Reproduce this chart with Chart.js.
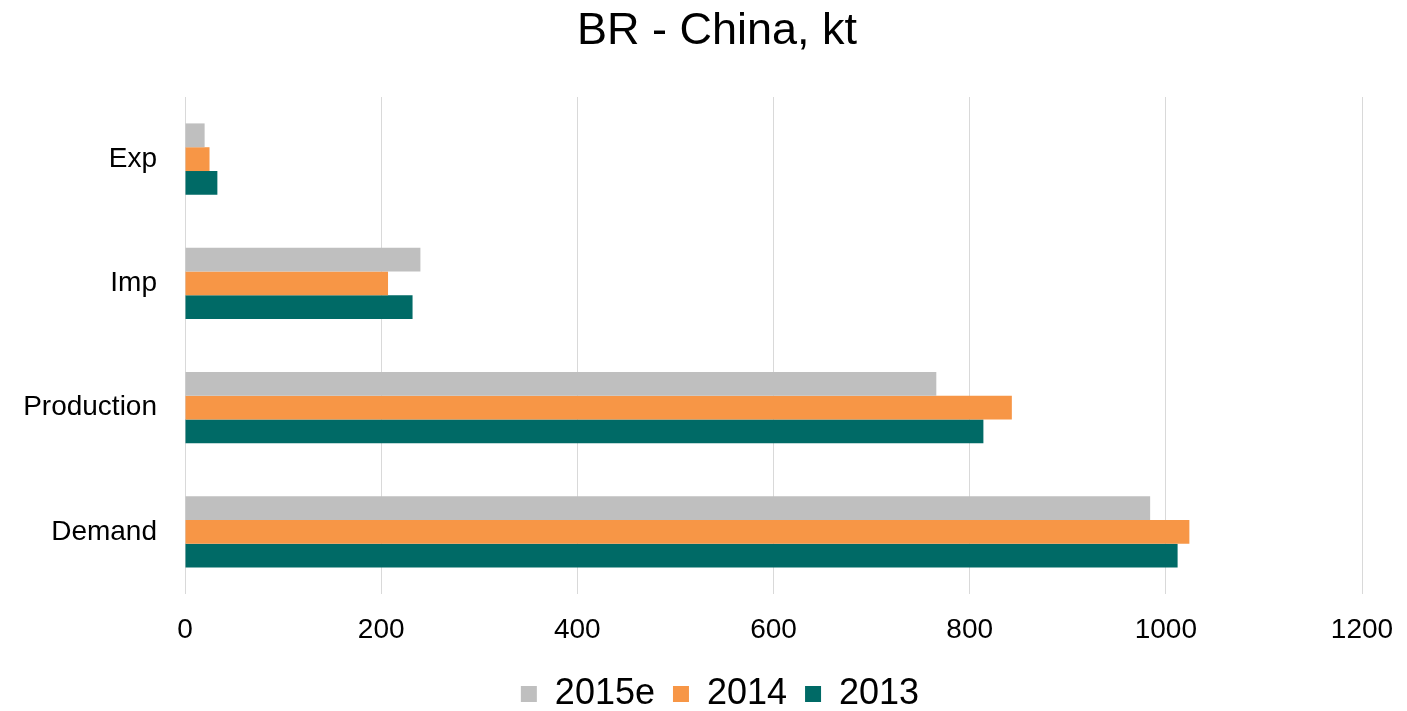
<!DOCTYPE html>
<html>
<head>
<meta charset="utf-8">
<script src="https://cdn.jsdelivr.net/npm/chart.js@4"></script>
<style>
  html, body { margin: 0; padding: 0; background: #ffffff; }
  #wrap { width: 1407px; height: 711px; }
</style>
</head>
<body>
<div id="wrap"><canvas id="c" width="1407" height="711"></canvas></div>
<script>
const categories = ['Exp', 'Imp', 'Production', 'Demand'];
const seriesNames = ['2015e', '2014', '2013'];
const values2015e = [20, 240, 766, 984];
const values2014 = [25, 207, 843, 1024];
const values2013 = [33, 232, 814, 1012];
const xTicks = [0, 200, 400, 600, 800, 1000, 1200];
const colors = ['#BFBFBF', '#F79646', '#006A66'];

const FONT = '"Liberation Sans", Arial, sans-serif';
const seriesValues = [values2015e, values2014, values2013];

const blockShift = {
  id: 'blockShift',
  afterLayout(chart) {
    const l = chart.legend;
    if (l) { l.left += 30; l.right += 30; }
    const t = chart.titleBlock;
    if (t) { t.left += 27; t.right += 27; }
  }
};

new Chart(document.getElementById('c'), {
  type: 'bar',
  data: {
    labels: categories,
    datasets: seriesNames.map((name, i) => ({
      label: name,
      data: seriesValues[i],
      backgroundColor: colors[i],
      borderWidth: 0,
      categoryPercentage: 0.575,
      barPercentage: 1.0
    }))
  },
  plugins: [blockShift],
  options: {
    indexAxis: 'y',
    responsive: false,
    animation: false,
    layout: { padding: { left: 18, right: 45, top: 0, bottom: -11 } },
    plugins: {
      title: {
        display: true,
        text: 'BR - China, kt',
        color: '#000000',
        font: { family: FONT, size: 45, weight: 'normal' },
        padding: { top: 5, bottom: 38 }
      },
      legend: {
        position: 'bottom',
        labels: {
          color: '#000000',
          font: { family: FONT, size: 36 },
          boxWidth: 16,
          boxHeight: 16,
          padding: 18
        }
      },
      tooltip: { enabled: false }
    },
    scales: {
      x: {
        type: 'linear',
        min: xTicks[0],
        max: xTicks[xTicks.length - 1],
        afterBuildTicks: (scale) => { scale.ticks = xTicks.map(v => ({ value: v })); },
        afterFit: (scale) => { scale.height = 64; scale.paddingRight = 0; scale.paddingLeft = 0; },
        grid: { color: '#D9D9D9', lineWidth: 1, drawTicks: false },
        border: { display: false },
        ticks: {
          color: '#000000',
          font: { family: FONT, size: 28 },
          padding: 19,
          maxRotation: 0,
          callback: (v) => String(v)
        }
      },
      y: {
        afterFit: (scale) => { scale.width = 167; },
        grid: { display: false, drawTicks: false },
        border: { display: false },
        ticks: {
          color: '#000000',
          font: { family: FONT, size: 28 },
          padding: 28
        }
      }
    }
  }
});
</script>
</body>
</html>
